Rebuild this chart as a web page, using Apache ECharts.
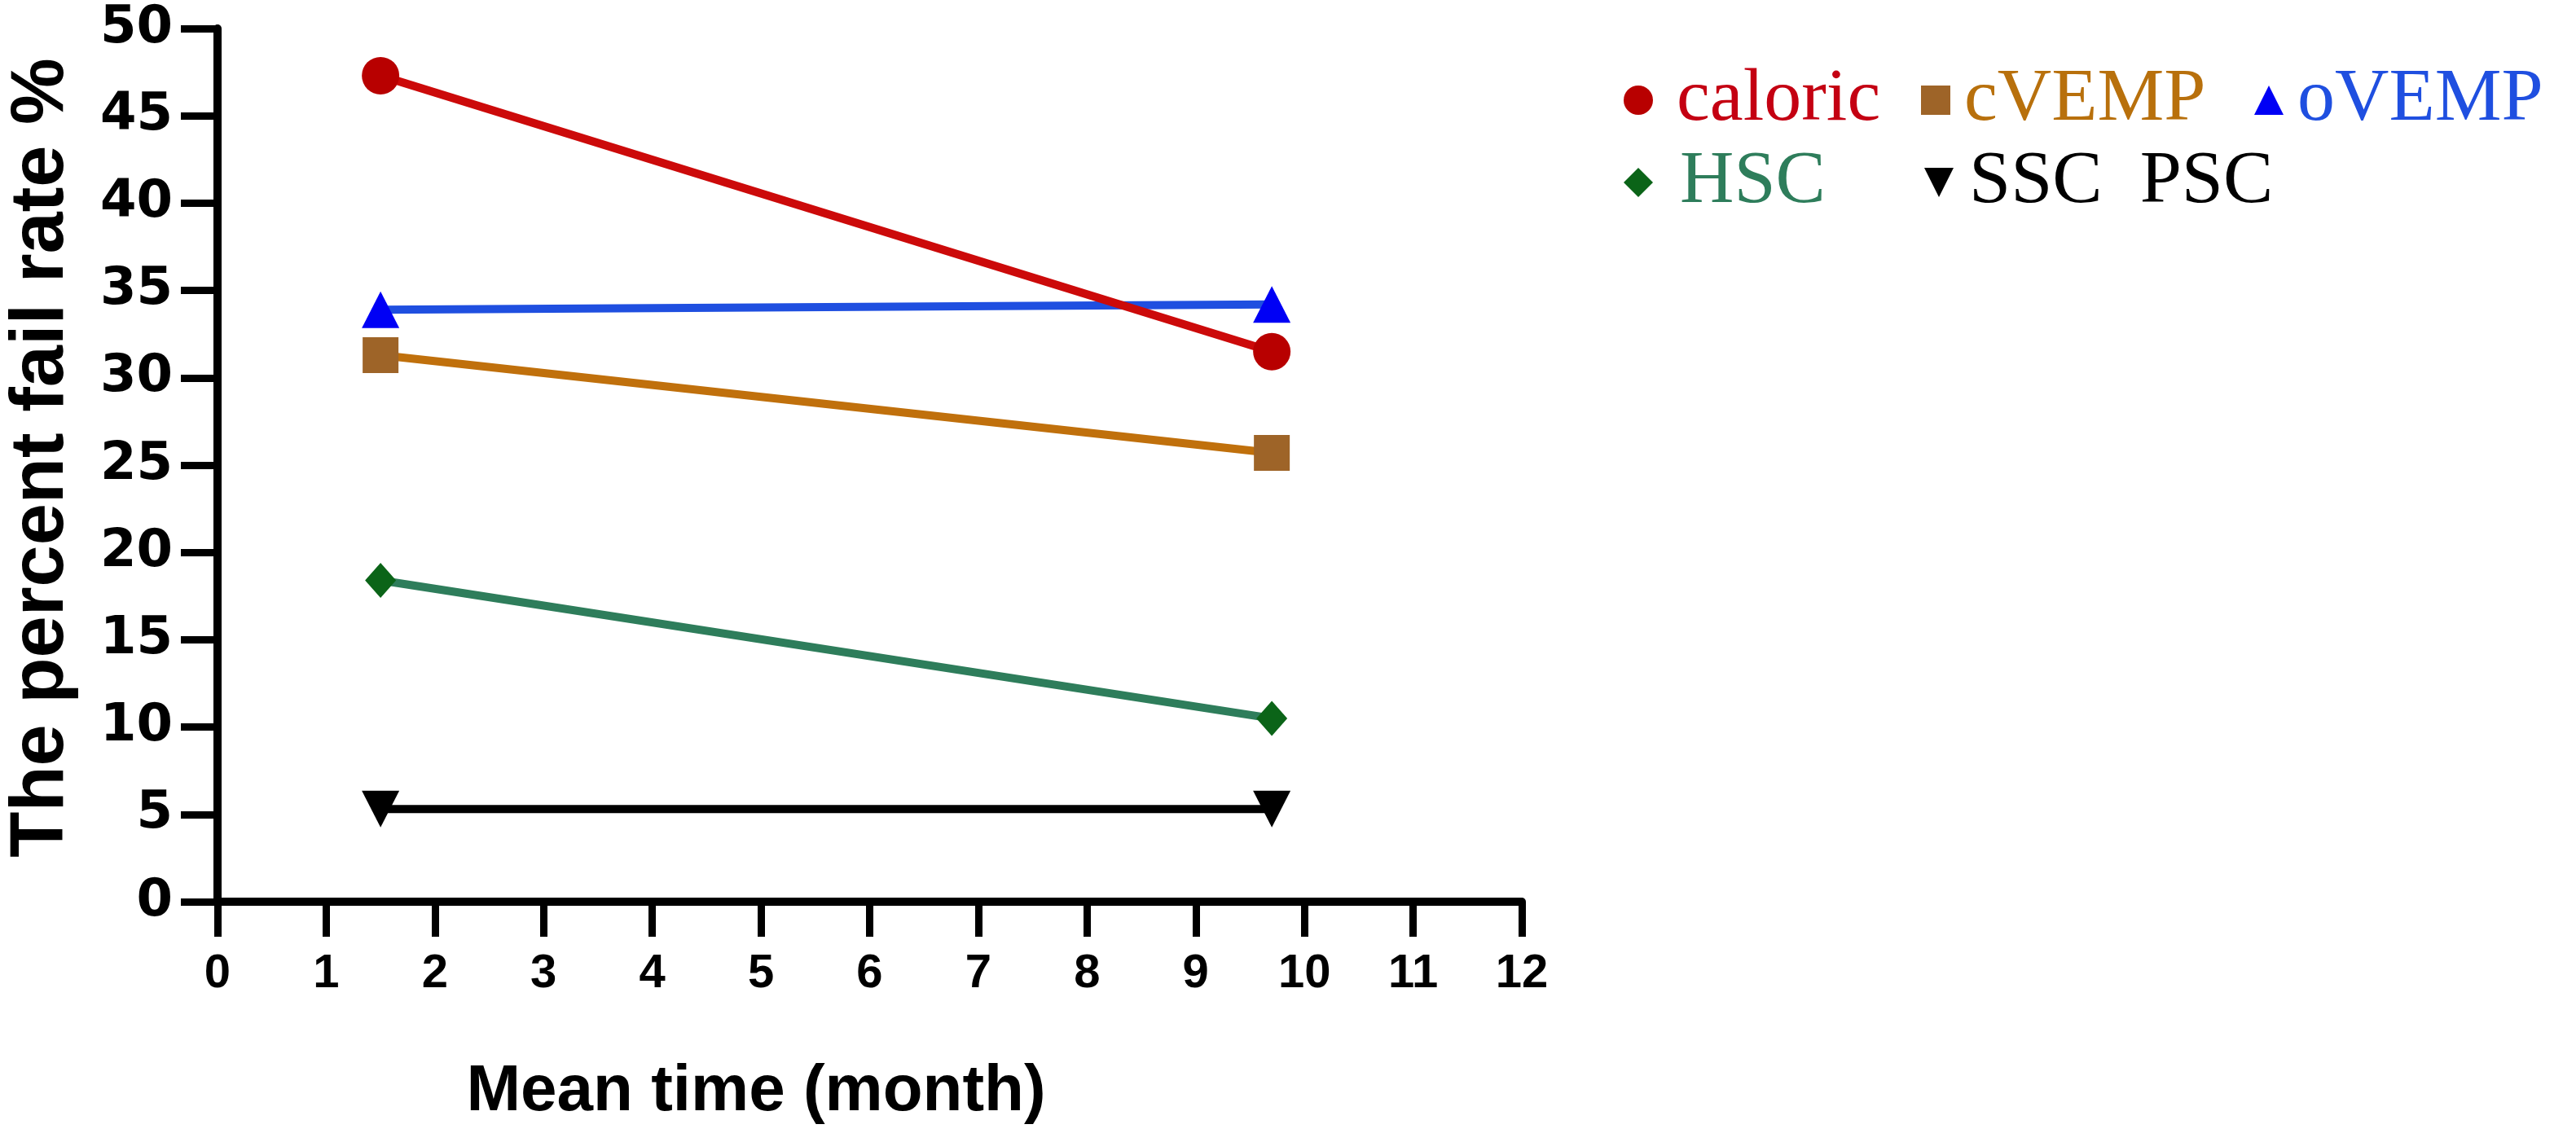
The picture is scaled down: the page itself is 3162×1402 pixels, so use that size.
<!DOCTYPE html>
<html>
<head>
<meta charset="utf-8">
<script src="https://cdn.jsdelivr.net/npm/echarts@6/dist/echarts.min.js"></script>
<style>
html,body{margin:0;padding:0;background:#fff;}
#chart{width:3162px;height:1402px;}
</style>
</head>
<body>
<div id="chart"></div>
<script>
// ---- data ----
const months = [1.5, 9.7];
const caloric = [47.3, 31.5];
const cVEMP = [31.3, 25.7];
const oVEMP = [33.9, 34.2];
const HSC = [18.4, 10.5];
const SSC_PSC = [5.3, 5.3];
const seriesNames = ['caloric', 'cVEMP', 'oVEMP', 'HSC', 'SSC  PSC'];
const yTicks = [0, 5, 10, 15, 20, 25, 30, 35, 40, 45, 50];
const xTicks = [0, 1, 2, 3, 4, 5, 6, 7, 8, 9, 10, 11, 12];
const yTitle = 'The percent fail rate %';
const xTitle = 'Mean time (month)';

function pts(vals) { return months.map((m, i) => [m, vals[i]]); }

const lineColors = ['#CC0A0A', '#C0700C', '#1F4FE0', '#2E7D5B', '#000000'];
const markColors = ['#B80000', '#9E6428', '#0000F5', '#0B6418', '#000000'];
const textColors = ['#C40012', '#B8700C', '#1F4FE0', '#2E7D5B', '#000000'];
const symbols = ['circle', 'rect', 'triangle', 'diamond', 'triangle'];
const symbolSizes = [46, 44, [46, 45], [38, 43], [46, 45]];
const legendIcons = ['circle', 'rect', 'triangle', 'diamond', 'path://M0,0L10,0L5,10Z'];
const allData = [caloric, cVEMP, oVEMP, HSC, SSC_PSC];

const series = seriesNames.map((n, i) => ({
  name: n,
  type: 'line',
  data: pts(allData[i]),
  symbol: symbols[i],
  symbolSize: symbolSizes[i],
  symbolRotate: i === 4 ? 180 : 0,
  showAllSymbol: true,
  lineStyle: { color: lineColors[i], width: 10 },
  itemStyle: { color: markColors[i] },
  emphasis: { disabled: true },
  z: 5 - i + 2,
  animation: false
}));

// legend positions (one legend per item)
const legendPos = [
  { left: 1993, top: 77, pad: 24 },
  { left: 2358, top: 77, pad: 12 },
  { left: 2767, top: 77, pad: 12 },
  { left: 1993, top: 178, pad: 28 },
  { left: 2362, top: 178, pad: 14 }
];
const legends = seriesNames.map((n, i) => ({
  left: legendPos[i].left,
  top: legendPos[i].top,
  padding: 0,
  itemWidth: 36,
  itemHeight: 36,
  selectedMode: false,
  data: [{ name: n, icon: legendIcons[i], itemStyle: { color: markColors[i] } }],
  textStyle: {
    color: textColors[i],
    fontFamily: 'Liberation Serif',
    fontSize: 92,
    padding: [0, 0, 0, legendPos[i].pad]
  }
}));

const chart = echarts.init(document.getElementById('chart'), null, { renderer: 'canvas' });
chart.setOption({
  backgroundColor: '#ffffff',
  animation: false,
  grid: { left: 267, right: 1294, top: 35, bottom: 295, containLabel: false },
  legend: legends,
  xAxis: {
    type: 'value',
    min: xTicks[0],
    max: xTicks[xTicks.length - 1],
    interval: 1,
    splitLine: { show: false },
    axisLine: { show: true, onZero: false, lineStyle: { color: '#000', width: 10 } },
    axisTick: { show: true, length: 43, lineStyle: { color: '#000', width: 9 } },
    axisLabel: {
      margin: 60,
      color: '#000',
      fontFamily: 'Liberation Sans Narrow, Liberation Sans',
      fontWeight: 'bold',
      fontSize: 58
    }
  },
  yAxis: {
    type: 'value',
    min: yTicks[0],
    max: yTicks[yTicks.length - 1],
    interval: 5,
    splitLine: { show: false },
    axisLine: { show: true, onZero: false, lineStyle: { color: '#000', width: 10 } },
    axisTick: { show: true, length: 45, lineStyle: { color: '#000', width: 9 } },
    axisLabel: {
      margin: 55,
      color: '#000',
      fontFamily: 'DejaVu Sans',
      fontWeight: 'bold',
      fontSize: 64
    }
  },
  graphic: [
    {
      type: 'text',
      x: 52, y: 562,
      rotation: Math.PI / 2,
      style: {
        text: yTitle,
        fill: '#000',
        font: 'bold 92px "Liberation Sans"',
        textAlign: 'center',
        textVerticalAlign: 'middle'
      }
    },
    {
      type: 'text',
      x: 928, y: 1341,
      style: {
        text: xTitle,
        fill: '#000',
        font: 'bold 80px "Liberation Sans"',
        textAlign: 'center',
        textVerticalAlign: 'middle'
      }
    }
  ],
  series: series
});
</script>
</body>
</html>
